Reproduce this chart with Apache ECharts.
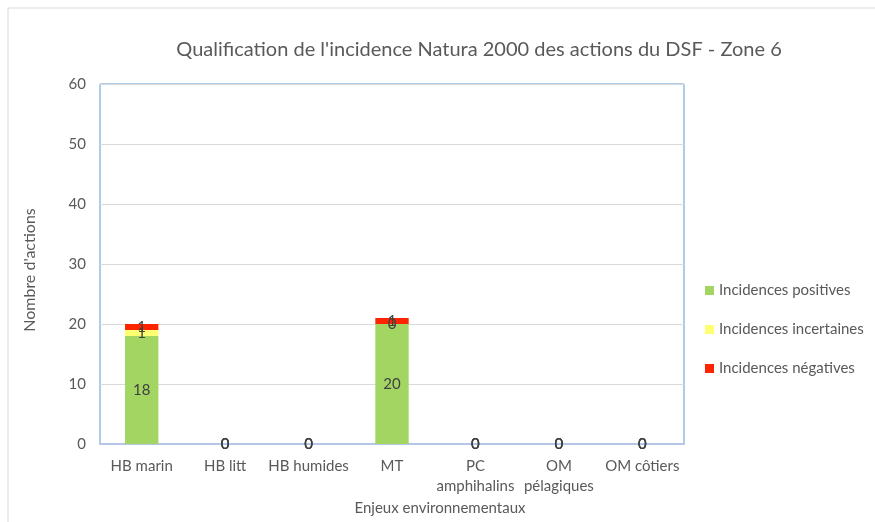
<!DOCTYPE html>
<html>
<head>
<meta charset="utf-8">
<script src="https://cdn.jsdelivr.net/npm/echarts@6/dist/echarts.min.js"></script>
<style>
  html, body { margin: 0; padding: 0; background: #fff; }
  #chart { width: 875px; height: 522px; }
</style>
</head>
<body>
<div id="chart"></div>
<script>
var categories = ['HB marin', 'HB litt', 'HB humides', 'MT', 'PC\namphihalins', 'OM\npélagiques', 'OM côtiers']
var positives = [18, 0, 0, 20, 0, 0, 0]
var incertaines = [1, 0, 0, 0, 0, 0, 0]
var negatives = [1, 0, 0, 1, 0, 0, 0]
var yTicks = [0, 10, 20, 30, 40, 50, 60]

var font = 'Lato, "Open Sans", sans-serif'
var grey = '#595959'

function barLabel() {
  return {
    show: true,
    position: 'inside',
    color: '#404040',
    fontSize: 15,
    fontFamily: font
  }
}

var chart = echarts.init(document.getElementById('chart'))
chart.setOption({
  animation: false,
  graphic: [
    {
      type: 'rect',
      shape: { x: 8, y: 8, width: 900, height: 600 },
      style: { fill: 'none', stroke: '#d9d9d9', lineWidth: 1 }
    }
  ],
  title: {
    text: "Qualification de l'incidence Natura 2000 des actions du DSF - Zone 6",
    left: 474,
    textAlign: 'center',
    top: 35,
    textStyle: { color: grey, fontSize: 20, fontWeight: 'normal', fontFamily: font }
  },
  legend: {
    orient: 'vertical',
    left: 700,
    top: 278,
    itemWidth: 9,
    itemHeight: 9,
    itemGap: 24,
    icon: 'rect',
    textStyle: { color: grey, fontSize: 15, fontFamily: font },
    data: ['Incidences positives', 'Incidences incertaines', 'Incidences négatives']
  },
  grid: {
    left: 100,
    right: 191,
    top: 84,
    bottom: 78,
    show: true,
    borderColor: '#5b9bd5',
    borderWidth: 1
  },
  xAxis: {
    type: 'category',
    data: categories,
    name: 'Enjeux environnementaux',
    nameLocation: 'middle',
    nameGap: 55,
    nameTextStyle: { color: grey, fontSize: 15, fontFamily: font, padding: [0, 0, 0, 96] },
    axisTick: { show: false },
    axisLine: { lineStyle: { color: '#b4c7e7', width: 2 } },
    axisLabel: {
      color: grey,
      fontSize: 15,
      fontFamily: font,
      margin: 12,
      interval: 0,
      lineHeight: 20
    }
  },
  yAxis: {
    type: 'value',
    min: yTicks[0],
    max: yTicks[yTicks.length - 1],
    interval: 10,
    name: "Nombre d'actions",
    nameLocation: 'middle',
    nameGap: 62,
    nameTextStyle: { color: grey, fontSize: 16, fontFamily: font, padding: [0, 12, 0, 0] },
    axisLine: { show: false },
    axisTick: { show: false },
    axisLabel: { color: grey, fontSize: 15, fontFamily: font, margin: 14 },
    splitLine: { lineStyle: { color: '#d9d9d9' } }
  },
  series: [
    {
      name: 'Incidences positives',
      type: 'bar',
      stack: 'total',
      barWidth: '40%',
      itemStyle: { color: '#a3d563' },
      label: barLabel(),
      data: positives
    },
    {
      name: 'Incidences incertaines',
      type: 'bar',
      stack: 'total',
      itemStyle: { color: '#ffff72' },
      label: barLabel(),
      data: incertaines
    },
    {
      name: 'Incidences négatives',
      type: 'bar',
      stack: 'total',
      itemStyle: { color: '#ff2400' },
      label: barLabel(),
      data: negatives
    }
  ]
})
window.addEventListener('resize', function () {
  chart.resize()
})
</script>
</body>
</html>
